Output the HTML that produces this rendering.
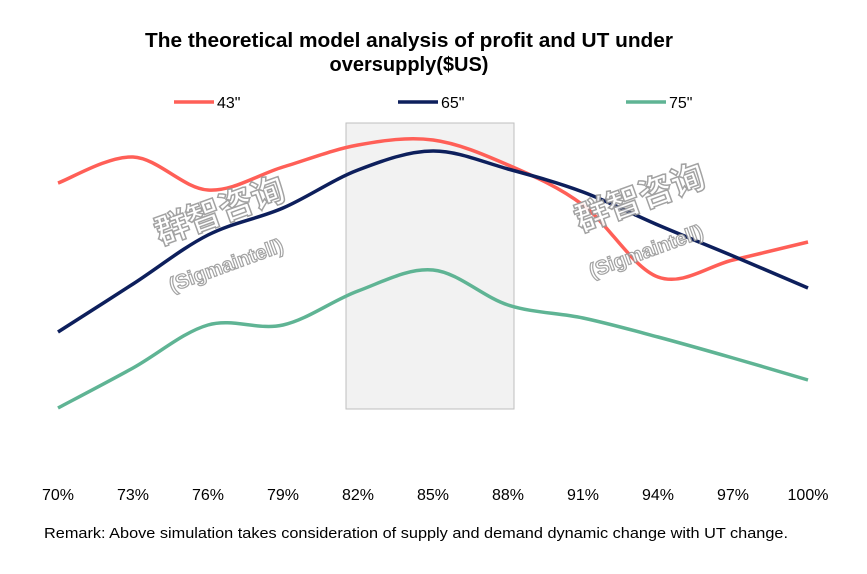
<!DOCTYPE html>
<html><head><meta charset="utf-8"><style>
body{margin:0;background:#fff;}
svg{display:block;font-family:"Liberation Sans","Noto Sans CJK SC",sans-serif;}
</style></head><body>
<svg width="867" height="574" viewBox="0 0 867 574">
<text x="409" y="47" text-anchor="middle" font-size="20" font-weight="bold" fill="#000" textLength="528" lengthAdjust="spacingAndGlyphs">The theoretical model analysis of profit and UT under</text>
<text x="409" y="71" text-anchor="middle" font-size="20" font-weight="bold" fill="#000">oversupply($US)</text>
<rect x="346" y="123" width="168" height="286" fill="#f2f2f2" stroke="#bfbfbf" stroke-width="1"/>
<g id="legend"></g>
<g id="series"></g>
<g id="xticks"></g>
<g opacity="0.9">
<text x="0" y="0" transform="translate(160,245) rotate(-20)" font-size="34" font-weight="bold" fill="#fff" stroke="#999" stroke-width="1.5" font-family="Noto Sans CJK SC,sans-serif">群智咨询</text>
<text x="0" y="0" transform="translate(172,292) rotate(-20)" font-size="20" font-weight="bold" fill="#fff" stroke="#999" stroke-width="1.2">(Sigmaintell)</text>
</g>
<g opacity="0.9">
<text x="0" y="0" transform="translate(580,232) rotate(-20)" font-size="34" font-weight="bold" fill="#fff" stroke="#999" stroke-width="1.5" font-family="Noto Sans CJK SC,sans-serif">群智咨询</text>
<text x="0" y="0" transform="translate(592,278) rotate(-20)" font-size="20" font-weight="bold" fill="#fff" stroke="#999" stroke-width="1.2">(Sigmaintell)</text>
</g>
<text x="44" y="538" font-size="15" fill="#000" textLength="744" lengthAdjust="spacingAndGlyphs">Remark: Above simulation takes consideration of supply and demand dynamic change with UT change.</text>
</svg>
<script>
const categories=["70%","73%","76%","79%","82%","85%","88%","91%","94%","97%","100%"];
const seriesNames=["43\"","65\"","75\""];
const s43=[247,273,240,263,285,290,265,225,153,170,188];
const s65=[98,146,195,222,260,279,261,238,205,174,142];
const s75=[22,62,105,105,139,160,125,112,93,72,50];
const colors=["#ff5f57","#0d1f5c","#5fb494"];
const NS="http://www.w3.org/2000/svg";
function xScale(i){return 58+i*75;}
function yScale(v){return 430-v;}
function path(vals){
  const p=vals.map((v,i)=>[xScale(i),yScale(v)]);
  let d="M"+p[0][0]+","+p[0][1];
  for(let i=0;i<p.length-1;i++){
    const p0=p[Math.max(0,i-1)],p1=p[i],p2=p[i+1],p3=p[Math.min(p.length-1,i+2)];
    const t=6;
    d+=" C"+(p1[0]+(p2[0]-p0[0])/t)+","+(p1[1]+(p2[1]-p0[1])/t)+" "+(p2[0]-(p3[0]-p1[0])/t)+","+(p2[1]-(p3[1]-p1[1])/t)+" "+p2[0]+","+p2[1];
  }
  return d;
}
const sg=document.getElementById("series");
const all=[s43,s65,s75];
const sn=["line-43-inch","line-65-inch","line-75-inch"];
all.forEach((vals,k)=>{
  const el=document.createElementNS(NS,"path");
  el.setAttribute("d",path(vals));
  el.setAttribute("fill","none");
  el.setAttribute("stroke",colors[k]);
  el.setAttribute("stroke-width","3.5");
  
  
  sg.appendChild(el);
});
const xg=document.getElementById("xticks");
categories.forEach((c,i)=>{
  const t=document.createElementNS(NS,"text");
  t.setAttribute("x",xScale(i));t.setAttribute("y",500);
  t.setAttribute("text-anchor","middle");t.setAttribute("font-size","16");
  t.textContent=c;
  
  
  xg.appendChild(t);
});
const lg=document.getElementById("legend");
const lx=[174,398,626];
seriesNames.forEach((n,k)=>{
  const l=document.createElementNS(NS,"line");
  l.setAttribute("x1",lx[k]);l.setAttribute("x2",lx[k]+40);
  l.setAttribute("y1",102);l.setAttribute("y2",102);
  l.setAttribute("stroke",colors[k]);l.setAttribute("stroke-width","3.5");
  
  
  lg.appendChild(l);
  const t=document.createElementNS(NS,"text");
  t.setAttribute("x",lx[k]+43);t.setAttribute("y",108);
  t.setAttribute("font-size","16");t.textContent=n;
  
  
  lg.appendChild(t);
});
</script>
</body></html>
